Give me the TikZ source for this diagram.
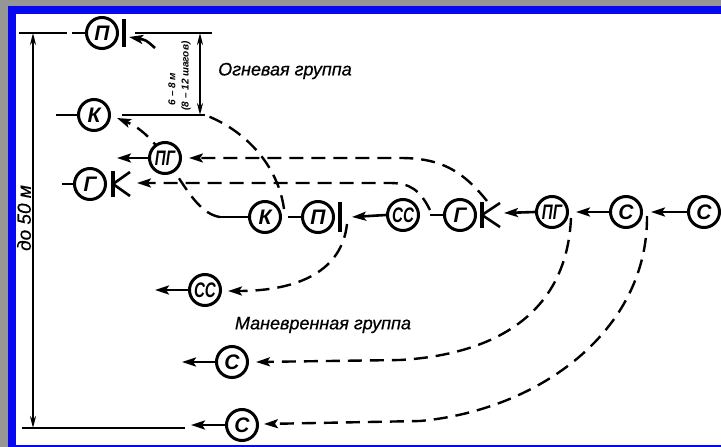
\documentclass[tikz,border=0pt]{standalone}
\usepackage{fontspec}
\usepackage{graphicx}
\setmainfont{Liberation Sans}
\newfontfamily\medit[ItalicFeatures={FakeBold=0.6}]{Liberation Sans}
\usetikzlibrary{arrows.meta,backgrounds,calc}
\definecolor{frameblue}{RGB}{8,8,240}
\definecolor{texgray}{RGB}{150,150,150}
\newcommand{\sq}[1]{\scalebox{0.72}[1]{#1}}
\begin{document}
\begin{tikzpicture}[x=1pt,y=-1pt,
  unit/.style={circle,draw,line width=3pt,fill=white,minimum size=31pt,inner sep=0pt,
    font=\fontsize{21}{21}\selectfont\bfseries\itshape},
  ln/.style={line width=2.6pt},
  barln/.style={line width=4pt},
  tip/.style={-{Stealth[length=14pt,width=9pt,inset=3pt]}},
  arr/.style={line width=2.6pt,tip},
  dln/.style={line width=2.4pt,dash pattern=on 14pt off 8pt},
  darr/.style={dln,tip},
  dimarr/.style={{Stealth[length=12pt,width=6pt]}-{Stealth[length=12pt,width=6pt]}},
  lbl/.style={font=\fontsize{18}{18}\selectfont\medit\itshape,inner sep=0pt},
  small/.style={font=\fontsize{10}{10}\selectfont\bfseries\itshape,inner sep=0pt,rotate=90},
]
\useasboundingbox (0,0) rectangle (721,447);

% ---------- nodes: fire group ----------
\node[unit] (pTop) at (102,33) {П};
\node[unit] (kTop) at (94,115) {К};
\node[unit] (pgL) at (165,158) {\sq{ПГ}};
\node[unit] (gL) at (90,184) {Г};
% ---------- nodes: manoeuvre group ----------
\node[unit] (ccB) at (205,290) {\sq{СС}};
\node[unit] (cB1) at (232,362) {С};
\node[unit] (cB2) at (242,425) {С};
% ---------- nodes: column ----------
\node[unit] (kC) at (265,217) {К};
\node[unit] (pC) at (318,217) {П};
\node[unit] (ccC) at (403,215) {\sq{СС}};
\node[unit] (gC) at (460,215) {Г};
\node[unit] (pgC) at (552,212) {\sq{ПГ}};
\node[unit] (cC1) at (626,212) {С};
\node[unit] (cC2) at (704,212) {С};

% ---------- coordinates ----------
\coordinate (pTopBar) at (124,33);
\coordinate (pCBar) at (340,217);
\coordinate (gLBar) at (113,184);
\coordinate (gCBar) at (482,215);
\coordinate (kExt) at (205,115);
\coordinate (kTip) at (117,118);
\coordinate (pStart) at (284,209);
\coordinate (kStart) at (220,217);
\coordinate (pgStart) at (487,201);
\coordinate (gStart) at (430,210);
\coordinate (ccStart) at (347,224);
\coordinate (c1Start) at (571,218);
\coordinate (c2Start) at (647,216);
\coordinate (pArrStart) at (155,48);
\coordinate (pArrTip) at (129,37);

% ---------- stubs ----------
\draw[ln] ($(pTop.west)+(-13,0)$) -- (pTop.west);
\draw[ln] ($(kTop.west)+(-21,0)$) -- (kTop.west);
\draw[ln] ($(gL.west)+(-11,0)$) -- (gL.west);
\draw[ln] (kStart) -- (kC.west);
\draw[ln] ($(pC.west)+(-13,0)$) -- (pC.west);
\draw[ln] ($(gC.west)+(-13,0)$) -- (gC.west);

% ---------- bars / symbols ----------
\draw[barln] ($(pTopBar)+(0,-14)$) -- ($(pTopBar)+(0,14)$);
\draw[barln] ($(pCBar)+(0,-15)$) -- ($(pCBar)+(0,15)$);
\draw[barln] ($(gLBar)+(0,-13)$) -- ($(gLBar)+(0,13)$);
\draw[ln] ($(gLBar)+(17,-12)$) -- (gLBar) -- ($(gLBar)+(17,12)$);
\draw[barln] ($(gCBar)+(0,-13)$) -- ($(gCBar)+(0,13)$);
\draw[ln] ($(gCBar)+(18,-12)$) -- (gCBar) -- ($(gCBar)+(18,12)$);

% ---------- solid arrows ----------
\draw[arr] (pgL.west) -- ++(-31,0);
\draw[arr] (ccB.west) -- ++(-33,0);
\draw[arr] (cB1.west) -- ++(-33,0);
\draw[arr] (cB2.west) -- ++(-34,0);
\draw[arr] (ccC.west) -- ($(pCBar)+(12,0)$);
\draw[arr] (pgC.west) -- ($(gCBar)+(22,-2)$);
\draw[arr] (cC1.west) -- ($(pgC.east)+(7,0)$);
\draw[arr] (cC2.west) -- ($(cC1.east)+(8,0)$);
\draw[arr] (pArrStart) .. controls (146,40) .. (pArrTip);

% ---------- dimensions ----------
\draw[line width=2.2pt,dimarr] (33,33) -- (33,428);
\draw[ln] (19,33) -- (67,33);
\draw[ln] (135,33) -- (212,33);
\draw[ln] (122,115) -- (kExt);
\draw[ln] (22,428) -- (185,428);
\draw[line width=1.8pt,dimarr] (200,33) -- (200,115);

% ---------- labels ----------
\node[lbl] (fire) at (285,71) {Огневая группа};
\node[lbl] (man) at (323,325) {Маневренная группа};
\node[lbl,rotate=90,font=\fontsize{19}{19}\selectfont\medit\itshape] (dist) at (24,218) {до 50 м};
\node[small] (d1) at (172,89) {6 – 8 м};
\node[small] (d2) at (186,76) {(8 – 12 шагов)};

\begin{pgfonlayer}{background}
\fill[texgray] (0,0) rectangle (721,447);
\fill[frameblue] (8,6) rectangle (721,447);
\fill[white] (16,14) rectangle (721,445);
% dashed paths
\draw[dln] (pStart) .. controls (278,165) and (245,130) .. (kExt);
\draw[darr] (kStart) .. controls (185,212) and (170,140) .. (kTip);
\draw[darr] (pgStart) .. controls (462,170) and (440,158) .. (400,158) -- ($(pgL.east)+(7,0)$);
\draw[darr] (gStart) .. controls (420,190) and (410,183) .. (390,183) -- ($(gLBar)+(24,-1)$);
\draw[darr] (ccStart) .. controls (342,270) and (300,291) .. ($(ccB.east)+(6,1)$);
\draw[darr] (c1Start) .. controls (566,330) and (470,356) .. (400,360) -- ($(cB1.east)+(7,0)$);
\draw[darr] (c2Start) .. controls (648,330) and (540,410) .. (420,421) -- ($(cB2.east)+(5,-1)$);
\end{pgfonlayer}
\end{tikzpicture}
\end{document}
